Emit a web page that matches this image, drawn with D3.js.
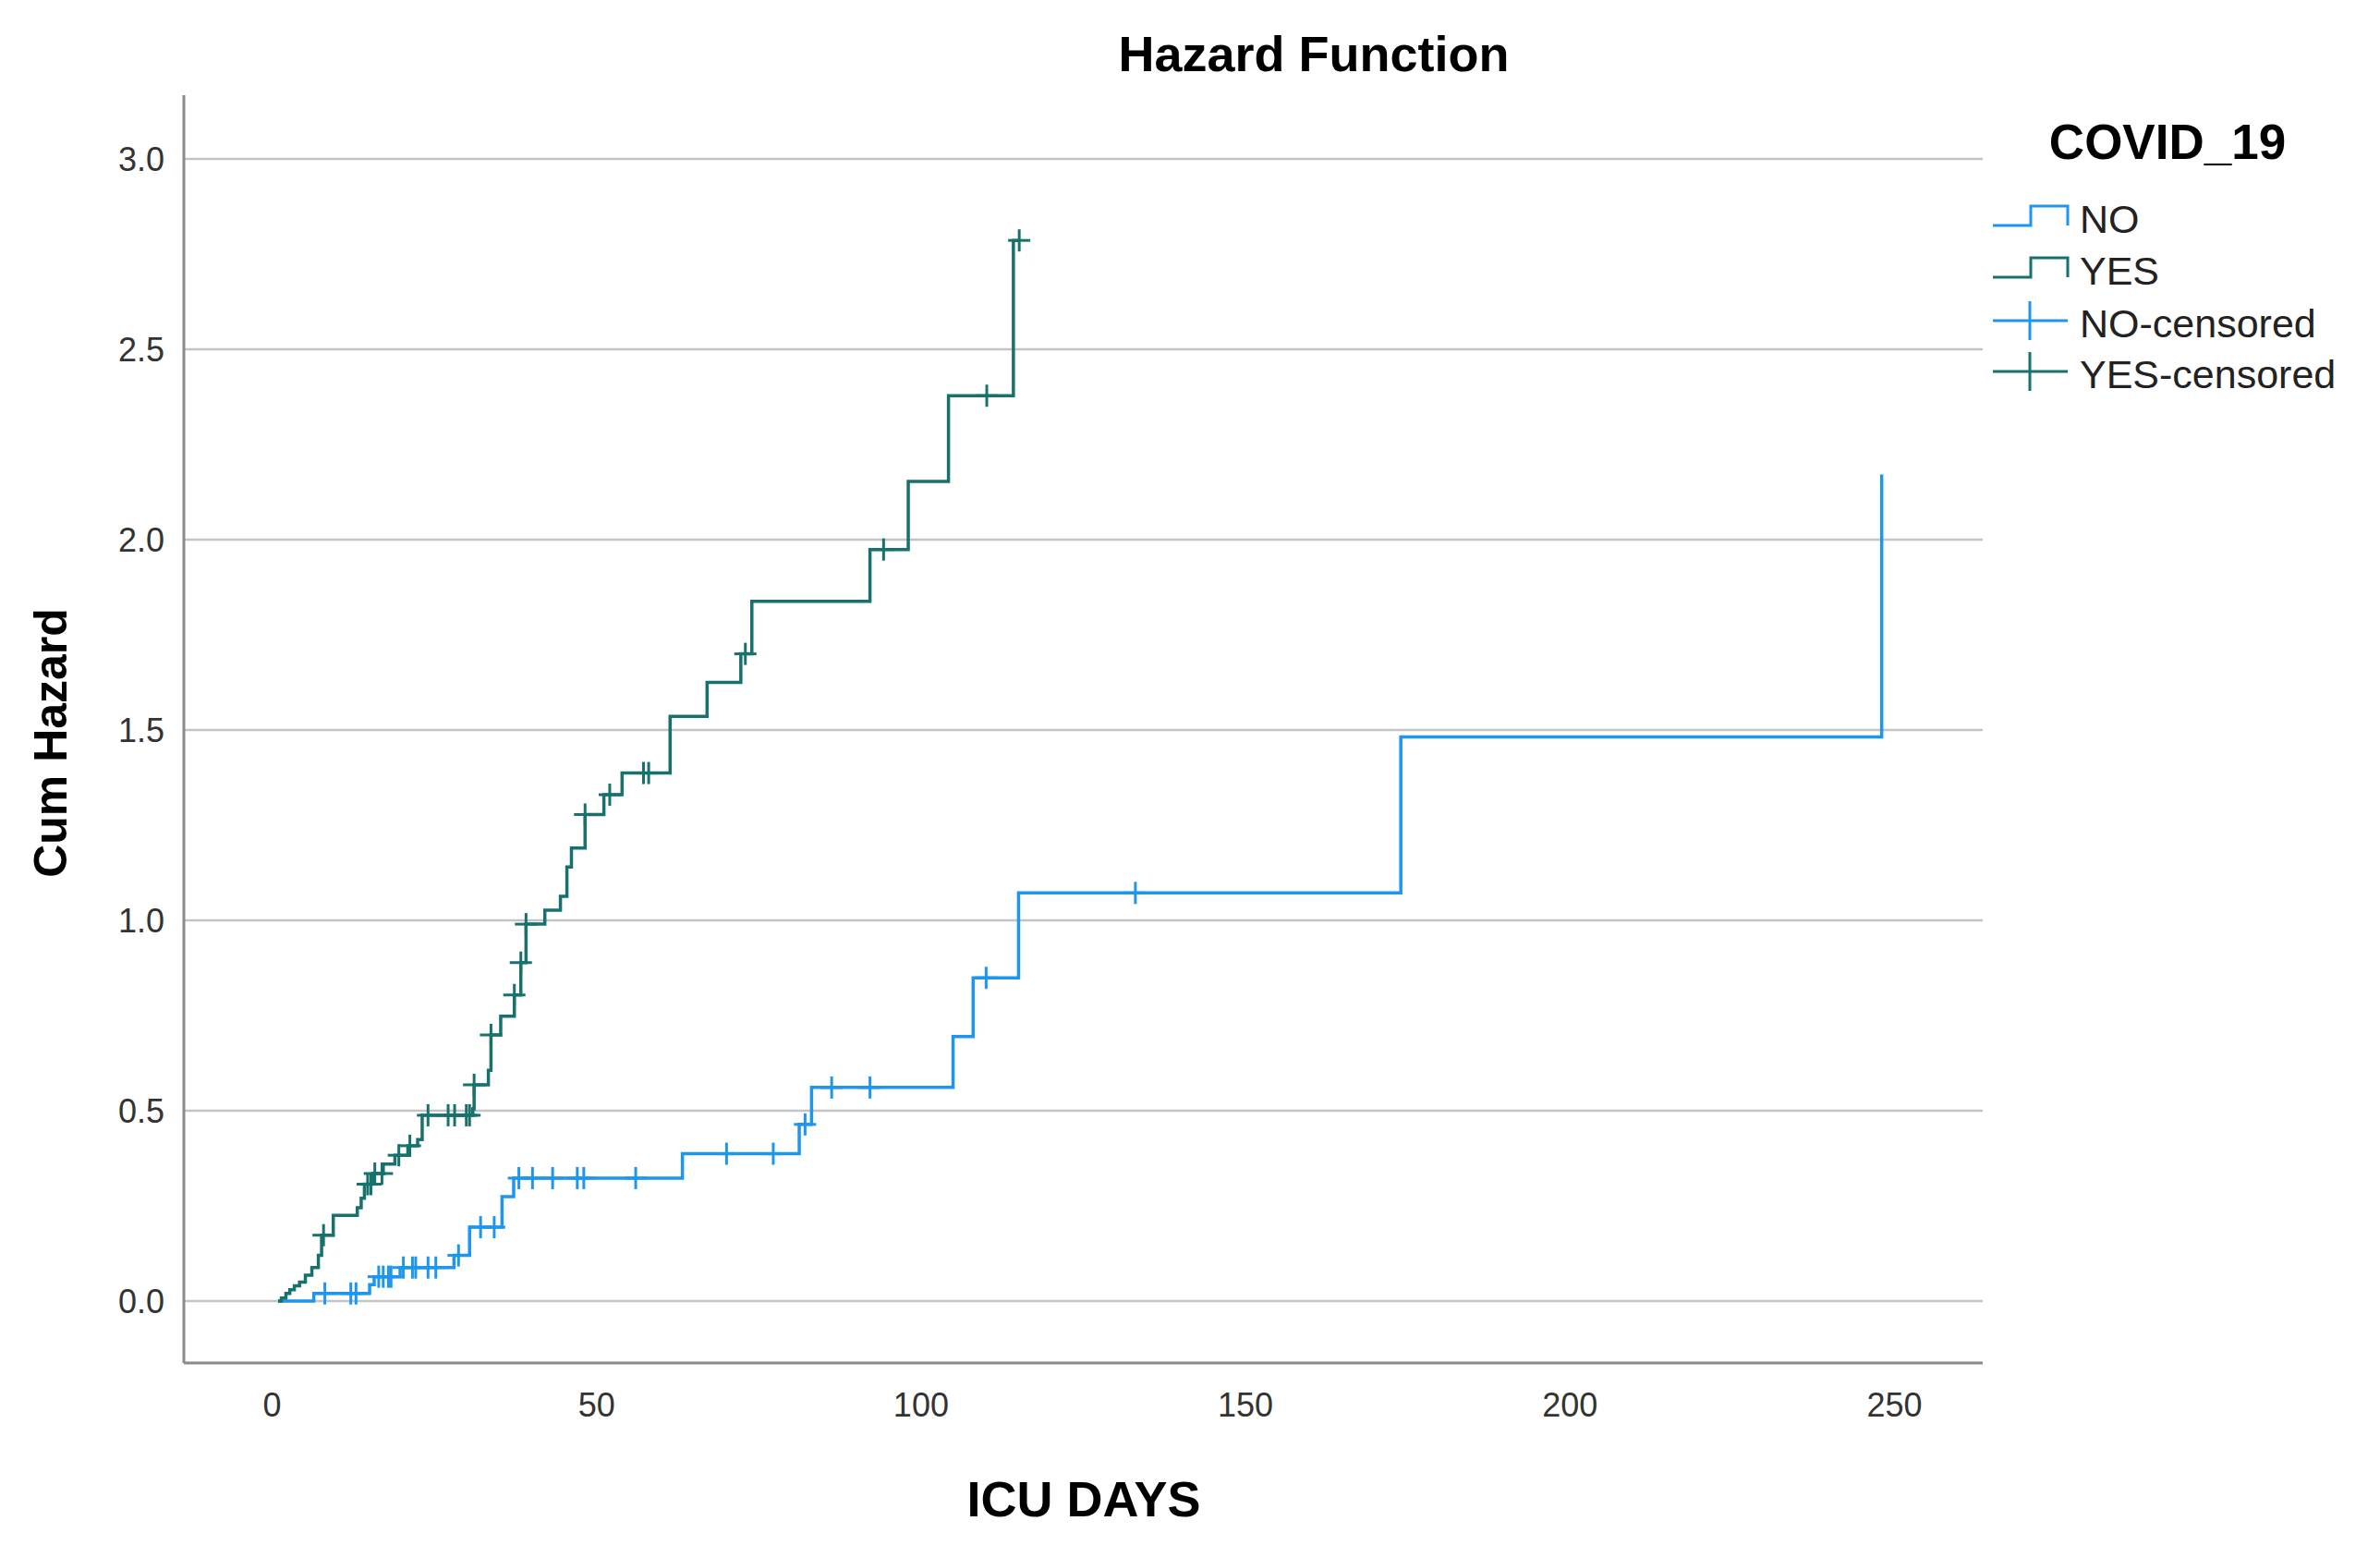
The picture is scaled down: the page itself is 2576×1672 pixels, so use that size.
<!DOCTYPE html>
<html>
<head>
<meta charset="utf-8">
<script src="https://cdn.jsdelivr.net/npm/d3@7"></script>
<style>
  body { margin: 0; background: #fff; }
  svg { font-family: "Liberation Sans", Arial, sans-serif; }
</style>
</head>
<body>
<svg id="chart" width="2576" height="1672"></svg>
<script>
// step times (ICU days) and cumulative hazard after each step
const noDays = [1, 6.5, 15.1, 15.8, 19.8, 28.1, 30.5, 35.5, 37.3, 63.3, 81.3, 83.2, 105, 108.1, 115.1, 174, 248.1]
const noHazard = [0, 0.02, 0.043, 0.064, 0.088, 0.12, 0.194, 0.274, 0.323, 0.387, 0.464, 0.561, 0.695, 0.849, 1.072, 1.482, 2.171]
const noCensored = [8.2, 12.2, 13.0, 16.5, 17.2, 18.0, 18.4, 20.3, 21.7, 22.2, 24.1, 25.3, 28.8, 32.2, 34.3,
    38.1, 40.2, 43.3, 47.1, 48.1, 56.1, 70.1, 77.3, 82.2, 86.3, 92.2, 110.1, 133.1]

const yesDays = [1, 1.5, 2.2, 2.8, 3.5, 4.3, 5.2, 6.2, 7.2, 7.7, 9.5, 13.2, 13.8, 14.3, 15.6, 17.2, 19, 21, 22.5,
    23.2, 31, 31.2, 33.4, 33.8, 35.3, 37.4, 38.4, 39.2, 42.1, 44.5, 45.5, 46.2, 48.3, 51.2, 54, 61.4, 67.1,
    72.3, 74, 92.2, 98.1, 104.3, 114.3]
const yesHazard = [0, 0.008, 0.02, 0.03, 0.04, 0.05, 0.068, 0.088, 0.12, 0.173, 0.225, 0.245, 0.27, 0.307, 0.335,
    0.36, 0.383, 0.408, 0.424, 0.488, 0.505, 0.568, 0.606, 0.699, 0.748, 0.804, 0.889, 0.99, 1.027, 1.063, 1.14,
    1.19, 1.278, 1.33, 1.387, 1.536, 1.625, 1.70, 1.838, 1.974, 2.153, 2.378, 2.786]
const yesCensored = [8.0, 14.8, 15.3, 15.9, 17.0, 19.6, 21.3, 24.1, 27.2, 28.2, 30.0, 30.5, 31.2, 33.8, 37.4,
    38.4, 39.2, 48.3, 52.1, 57.3, 58.1, 73, 94.3, 110.2, 115.2]

const xTicks = [0, 50, 100, 150, 200, 250]
const yTicks = [0, 0.5, 1, 1.5, 2, 2.5, 3]
const groupNames = ["NO", "YES"]
const groupColors = ["#1e96ee", "#17716c"]

const plot = { left: 199, right: 2146, top: 103, bottom: 1475 }
const crossSize = 12

var svg = d3.select("#chart")

var x = d3.scaleLinear().domain([0, 250]).range([294, 2050])
var y = d3.scaleLinear().domain([0, 3]).range([1408, 172])

// gridlines
svg.append("g")
    .selectAll("line")
    .data(yTicks)
    .enter().append("line")
    .attr("x1", plot.left)
    .attr("x2", plot.right)
    .attr("y1", d => y(d))
    .attr("y2", d => y(d))
    .style("stroke", "#c4c4c4")
    .style("stroke-width", 2.5)

// axes (no tick marks, just labels)
var yAxis = svg.append("g")
    .attr("transform", "translate(" + plot.left + ",0)")
    .call(d3.axisLeft(y).tickValues(yTicks).tickSize(0).tickPadding(21).tickFormat(d3.format(".1f")))
yAxis.select(".domain").remove()
yAxis.selectAll("text")
    .attr("font-size", 36)
    .attr("fill", "#333")
    .attr("dy", "0.36em")

var xAxis = svg.append("g")
    .attr("transform", "translate(0," + plot.bottom + ")")
    .call(d3.axisBottom(x).tickValues(xTicks).tickSize(0).tickPadding(32))
xAxis.select(".domain").remove()
xAxis.selectAll("text")
    .attr("font-size", 36)
    .attr("fill", "#333")

svg.append("line")
    .attr("x1", plot.left).attr("x2", plot.left)
    .attr("y1", plot.top).attr("y2", plot.bottom)
    .style("stroke", "#8a8a8a").style("stroke-width", 3)
svg.append("line")
    .attr("x1", plot.left).attr("x2", plot.right)
    .attr("y1", plot.bottom).attr("y2", plot.bottom)
    .style("stroke", "#8a8a8a").style("stroke-width", 3)

// curves
function valueAt(days, hazard, t) {
    let i = d3.bisectRight(days, t) - 1
    return hazard[Math.max(0, i)]
}

var series = [
    { days: noDays, hazard: noHazard, censored: noCensored },
    { days: yesDays, hazard: yesHazard, censored: yesCensored }
]

var stepLine = d3.line()
    .x(d => x(d[0]))
    .y(d => y(d[1]))
    .curve(d3.curveStepAfter)

series.forEach((s, k) => {
    let pts = s.days.map((d, i) => [d, s.hazard[i]])
    let end = d3.max(s.censored)
    if (end > s.days[s.days.length - 1]) pts.push([end, s.hazard[s.hazard.length - 1]])

    svg.append("path")
        .datum(pts)
        .attr("d", stepLine)
        .attr("fill", "none")
        .attr("stroke", groupColors[k])
        .attr("stroke-width", 3.5)

    let marks = svg.append("g")
        .selectAll("g")
        .data(s.censored)
        .enter().append("g")
        .attr("transform", t => "translate(" + x(t) + "," + y(valueAt(s.days, s.hazard, t)) + ")")
        .attr("stroke", groupColors[k])
        .attr("stroke-width", 3)
    marks.append("line").attr("x1", -crossSize).attr("x2", crossSize)
    marks.append("line").attr("y1", -crossSize).attr("y2", crossSize)
})

// titles
svg.append("text")
    .attr("x", 1422).attr("y", 77)
    .attr("text-anchor", "middle")
    .attr("font-size", 54).attr("font-weight", "bold")
    .text("Hazard Function")

svg.append("text")
    .attr("x", 1173).attr("y", 1641)
    .attr("text-anchor", "middle")
    .attr("font-size", 54).attr("font-weight", "bold")
    .text("ICU DAYS")

svg.append("text")
    .attr("transform", "translate(72,804) rotate(-90)")
    .attr("text-anchor", "middle")
    .attr("font-size", 50).attr("font-weight", "bold")
    .text("Cum Hazard")

// legend
var legend = svg.append("g")
legend.append("text")
    .attr("x", 2346).attr("y", 172)
    .attr("text-anchor", "middle")
    .attr("font-size", 53).attr("font-weight", "bold")
    .text("COVID_19")

var legendItems = [
    { label: "NO", color: groupColors[0], kind: "step", y: 252 },
    { label: "YES", color: groupColors[1], kind: "step", y: 308 },
    { label: "NO-censored", color: groupColors[0], kind: "cross", y: 365 },
    { label: "YES-censored", color: groupColors[1], kind: "cross", y: 420 }
]

legendItems.forEach(item => {
    if (item.kind == "step") {
        let lo = item.y - 8, hi = item.y - 29
        legend.append("path")
            .attr("d", "M2157," + lo + "H2198V" + hi + "H2238V" + lo)
            .attr("fill", "none")
            .attr("stroke", item.color)
            .attr("stroke-width", 3)
    } else {
        let cy = item.y - 18
        legend.append("path")
            .attr("d", "M2157," + cy + "H2238M2197," + (cy - 21) + "V" + (cy + 21))
            .attr("fill", "none")
            .attr("stroke", item.color)
            .attr("stroke-width", 3)
    }
    legend.append("text")
        .attr("x", 2251).attr("y", item.y)
        .attr("font-size", 43)
        .attr("fill", "#222")
        .text(item.label)
})
</script>
</body>
</html>
